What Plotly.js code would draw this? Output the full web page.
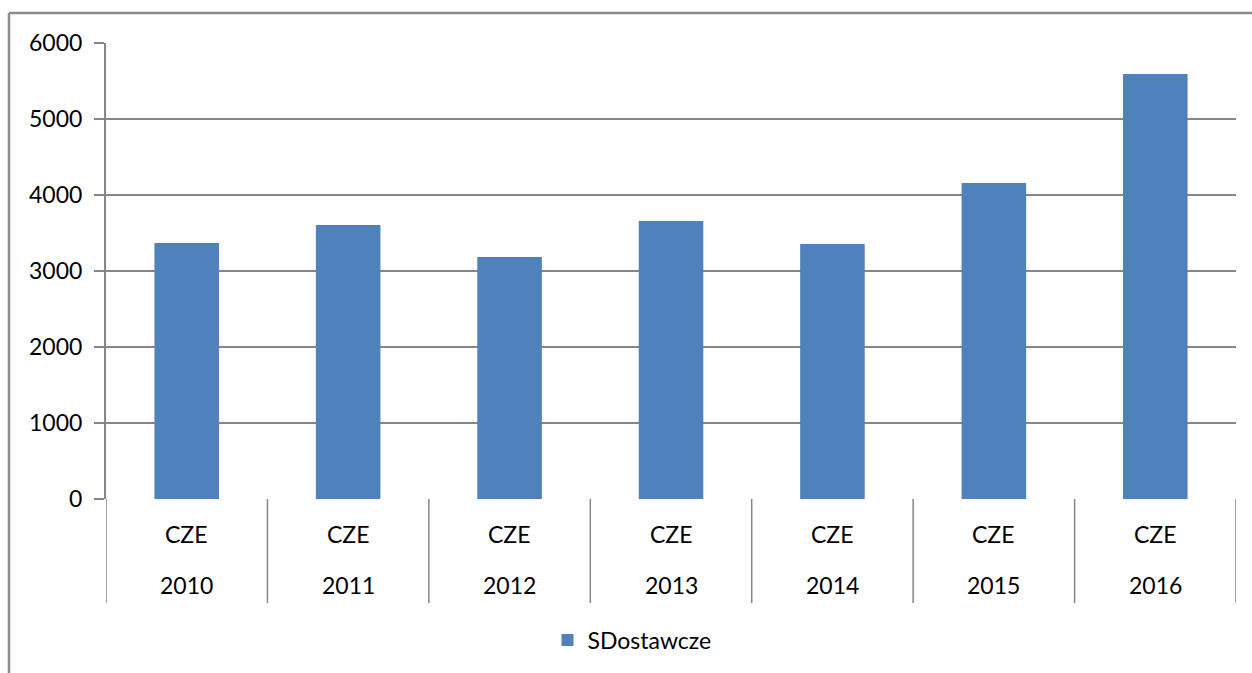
<!DOCTYPE html>
<html>
<head>
<meta charset="utf-8">
<script src="https://cdn.plot.ly/plotly-3.0.1.min.js"></script>
<style>html,body{margin:0;padding:0;background:#fff;}#chart{width:1252px;height:673px;}</style>
</head>
<body>
<div id="chart"></div>
<script>
const countries = ["CZE","CZE","CZE","CZE","CZE","CZE","CZE"];
const years = ["2010","2011","2012","2013","2014","2015","2016"];
const values = [3368, 3605, 3184, 3658, 3355, 4158, 5592];
const seriesName = "SDostawcze";
const yTicks = [0,1000,2000,3000,4000,5000,6000];

const W = 1252, H = 673;
const L = 106, R = 16, T = 43, B = 174;
const plotH = H - T - B, plotW = W - L - R;
const py = px => (H - B - px) / plotH;   // pixel y -> paper y
const pxx = px => (px - L) / plotW;      // pixel x -> paper x

const cats = years.map((y,i)=>i);
const font = "Lato, 'Open Sans', sans-serif";
const FS = 23;
const grey = "#868686";

const shapes = [];
for (let i = 0; i <= years.length; i++) {
  shapes.push({type:'line', xref:'x', yref:'paper', x0:i-0.5, x1:i-0.5, y0:0, y1:py(603), line:{color:grey, width:1.5}});
}
// outer frame
shapes.push({type:'line', xref:'paper', yref:'paper', x0:pxx(9), x1:pxx(9), y0:py(13), y1:py(700), line:{color:"#8c8c8c", width:2.5}});
shapes.push({type:'line', xref:'paper', yref:'paper', x0:pxx(9), x1:pxx(1260), y0:py(13), y1:py(13), line:{color:"#8c8c8c", width:2.5}});

const annotations = [];
cats.forEach((c,i)=>{
  annotations.push({x:c, xref:'x', yref:'paper', y:py(534), yanchor:'middle', xanchor:'center', text:countries[i], showarrow:false, font:{family:font, size:FS, color:"#000"}});
  annotations.push({x:c, xref:'x', yref:'paper', y:py(585), yanchor:'middle', xanchor:'center', text:years[i], showarrow:false, font:{family:font, size:FS, color:"#000"}});
});

const data = [{
  type:'bar', x:cats, y:values, name:seriesName,
  marker:{color:"#4F81BD"}, showlegend:true
}];

const layout = {
  width:W, height:H,
  margin:{l:L, r:R, t:T, b:B, pad:0},
  paper_bgcolor:"#fff", plot_bgcolor:"#fff",
  bargap:0.6,
  font:{family:font, size:FS, color:"#000"},
  xaxis:{type:'linear', range:[-0.5, years.length-0.5], showticklabels:false, showgrid:false, zeroline:false, showline:false, ticks:''},
  yaxis:{range:[0,6000], tickvals:yTicks, ticktext:yTicks.map(String), showgrid:true, gridcolor:grey, gridwidth:2,
         zeroline:false, showline:true, linecolor:grey, linewidth:2, ticks:'outside', ticklen:10, tickcolor:grey, tickwidth:2,
         ticklabelstandoff:7, tickfont:{family:font, size:FS, color:"#000"}},
  showlegend:true,
  legend:{orientation:'h', x:pxx(632), xanchor:'center', y:py(640), yanchor:'middle', font:{family:font, size:FS, color:"#000"}, itemwidth:30},
  shapes:shapes, annotations:annotations
};
Plotly.newPlot('chart', data, layout, {displayModeBar:false, staticPlot:true});
</script>
</body>
</html>
